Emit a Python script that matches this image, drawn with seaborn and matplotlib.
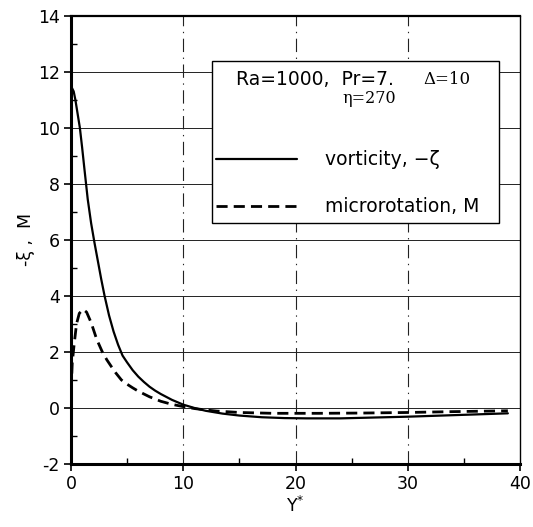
import numpy as np
import pandas as pd
import matplotlib
matplotlib.use("Agg")
import matplotlib.pyplot as plt
import seaborn as sns
from matplotlib.patches import Rectangle
from matplotlib.ticker import MultipleLocator

# ── Data ─────────────────────────────────────────────────────────────────────
VORT_X = [0.0, 0.1, 0.25, 0.4, 0.6, 0.8, 1.0, 1.2, 1.5, 1.8, 2.1, 2.4, 2.7,
          3.0, 3.4, 3.8, 4.2, 4.6, 5.0, 5.5, 6.0, 6.5, 7.0, 7.5, 8.0, 9.0,
          10.0, 11.0, 12.0, 13.5, 15.0, 17.0, 19.0, 21.0, 24.0, 27.0, 30.0,
          33.0, 36.0, 38.9]
VORT_Y = [11.4, 11.42, 11.3, 11.0, 10.5, 10.0, 9.3, 8.55, 7.45, 6.6, 5.9, 5.25, 4.6,
          4.0, 3.3, 2.73, 2.26, 1.87, 1.63, 1.35, 1.12, 0.93, 0.76, 0.62, 0.5, 0.29,
          0.12, 0.0, -0.1, -0.2, -0.27, -0.33, -0.36, -0.37, -0.37, -0.34, -0.31,
          -0.27, -0.23, -0.19]

MICRO_X = [0.0, 0.05, 0.12, 0.27, 0.5, 0.75, 1.1, 1.4, 1.8, 2.3, 2.8, 3.2,
           3.6, 4.0, 4.5, 5.0, 5.5, 6.0, 7.0, 8.0, 9.0, 10.0, 11.0, 12.0, 13.0,
           15.0, 18.0, 22.0, 26.0, 30.0, 34.0, 38.9]
MICRO_Y = [0.0, 0.9, 1.6, 2.2, 3.0, 3.38, 3.52, 3.42, 3.05, 2.45, 2.0, 1.72,
           1.48, 1.25, 1.0, 0.85, 0.72, 0.6, 0.4, 0.24, 0.13, 0.05, -0.02, -0.07, -0.11,
           -0.16, -0.19, -0.19, -0.18, -0.16, -0.13, -0.1]

X_TICKS = [0, 10, 20, 30, 40]
Y_TICKS = [-2, 0, 2, 4, 6, 8, 10, 12, 14]

vort = pd.DataFrame({"Y": VORT_X, "val": VORT_Y})
micro = pd.DataFrame({"Y": MICRO_X, "val": MICRO_Y})

# ── Style ────────────────────────────────────────────────────────────────────
sns.set_style("ticks")
plt.rcParams["font.family"] = ["DejaVu Sans"]
plt.rcParams["mathtext.fontset"] = "dejavusans"
plt.rcParams["axes.unicode_minus"] = False
plt.rcParams["text.color"] = "black"
plt.rcParams["axes.labelcolor"] = "black"

fig = plt.figure(figsize=(5.33, 5.27), dpi=100)
ax = fig.add_axes([0.133, 0.1195, 0.843, 0.8505])

sns.lineplot(data=vort, x="Y", y="val", ax=ax, color="black", lw=1.6,
             label="vorticity, \u2212\u03b6", sort=False)
sns.lineplot(data=micro, x="Y", y="val", ax=ax, color="black", lw=2.0,
             label="microrotation, M", sort=False)
ax.lines[1].set_dashes((4, 2.2))

ax.set_xlim(0, 40)
ax.set_ylim(-2, 14)
ax.set_xticks(X_TICKS)
ax.set_yticks(Y_TICKS)
ax.xaxis.set_minor_locator(MultipleLocator(5))
ax.yaxis.set_minor_locator(MultipleLocator(1))
ax.tick_params(axis="both", which="major", direction="out", length=5,
               width=1.2, labelsize=12.5, colors="black", pad=3)
ax.tick_params(axis="both", which="minor", direction="in", length=4,
               width=1.0, colors="black")

# grid: solid horizontals, dash-dot verticals
for yv in Y_TICKS[1:-1]:
    ax.axhline(yv, color="#222222", lw=0.7, zorder=0)
for xv in X_TICKS[1:-1]:
    ax.axvline(xv, color="#222222", lw=0.8, ls=(0, (12, 5, 1.2, 5)), zorder=0)

for side in ["left", "bottom"]:
    ax.spines[side].set_linewidth(2.2)
ax.spines["top"].set_linewidth(1.6)
ax.spines["right"].set_linewidth(1.0)
for s in ax.spines.values():
    s.set_color("black")
    s.set_visible(True)

ax.set_xlabel("Y$^{*}$", fontsize=12.5, labelpad=2)
ax.set_ylabel("-\u03be ,  M", fontsize=12.5, labelpad=2)

# legend box with parameters
box = Rectangle((0.314, 0.538), 0.639, 0.362, transform=ax.transAxes,
                facecolor="white", edgecolor="black", lw=1.0, zorder=4)
ax.add_patch(box)
ax.text(0.368, 0.858, "Ra=1000,  Pr=7.", transform=ax.transAxes,
        fontsize=13.5, va="center", ha="left", zorder=5)
ax.text(0.785, 0.858, "\u0394=10", transform=ax.transAxes, family="DejaVu Serif",
        fontsize=12, va="center", ha="left", zorder=5)
ax.text(0.665, 0.815, "\u03b7=270", transform=ax.transAxes, family="DejaVu Serif",
        fontsize=11.5, va="center", ha="center", zorder=5)

leg = ax.legend(loc="upper left", bbox_to_anchor=(0.306, 0.717), frameon=False,
                fontsize=13.5, handlelength=4.3, handletextpad=1.5,
                labelspacing=1.5, borderaxespad=0)
leg.set_zorder(6)

fig.savefig("out.png", dpi=100)
